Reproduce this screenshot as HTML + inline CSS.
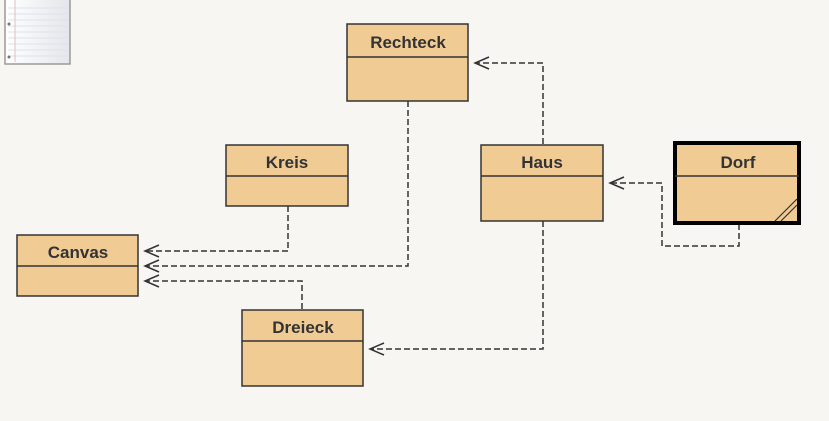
<!DOCTYPE html>
<html><head><style>
body{margin:0;width:829px;height:416px;background:#f7f6f2;overflow:hidden;font-family:"Liberation Sans",sans-serif}
</style></head><body>
<svg width="829" height="416" xmlns="http://www.w3.org/2000/svg">
<defs><linearGradient id="pg" x1="0" x2="1"><stop offset="0" stop-color="#fff"/><stop offset="1" stop-color="#e4e6ea"/></linearGradient></defs>
<rect x="5" y="-4" width="65" height="68" fill="url(#pg)" stroke="#9a9a9a" stroke-width="1.5"/>
<g stroke="#dde2ec" stroke-width="1">
<line x1="8" y1="8" x2="68" y2="8"/><line x1="8" y1="14" x2="68" y2="14"/><line x1="8" y1="20" x2="68" y2="20"/><line x1="8" y1="26" x2="68" y2="26"/><line x1="8" y1="32" x2="68" y2="32"/><line x1="8" y1="38" x2="68" y2="38"/><line x1="8" y1="44" x2="68" y2="44"/><line x1="8" y1="50" x2="68" y2="50"/><line x1="8" y1="56" x2="68" y2="56"/></g>
<line x1="15" y1="0" x2="15" y2="62" stroke="#e0c0c0"/>
<circle cx="9" cy="24" r="1.5" fill="#777"/><circle cx="9" cy="57" r="1.5" fill="#777"/>
<g fill="none" stroke="#333" stroke-width="1.5" stroke-dasharray="6,3">
<polyline points="288,206 288,251 146,251"/>
<polyline points="408,101 408,266 146,266"/>
<polyline points="302,309 302,281 146,281"/>
<polyline points="543,144 543,63 476,63"/>
<polyline points="543,221 543,349 371,349"/>
<polyline points="739,224 739,246 662,246 662,183 611,183"/>
</g>
<g fill="none" stroke="#333" stroke-width="1.5">
<polyline points="159,245 145,251 159,257"/>
<polyline points="159,260 145,266 159,272"/>
<polyline points="159,275 145,281 159,287"/>
<polyline points="489,57 475,63 489,69"/>
<polyline points="384,343 370,349 384,355"/>
<polyline points="624,177 610,183 624,189"/>
</g>
<g fill="#f0cb94" stroke="#333" stroke-width="1.5">
<rect x="347" y="24" width="121" height="77"/><line x1="347" y1="57" x2="468" y2="57"/>
<rect x="226" y="145" width="122" height="61"/><line x1="226" y1="176" x2="348" y2="176"/>
<rect x="17" y="235" width="121" height="61"/><line x1="17" y1="266" x2="138" y2="266"/>
<rect x="481" y="145" width="122" height="76"/><line x1="481" y1="176" x2="603" y2="176"/>
<rect x="242" y="310" width="121" height="76"/><line x1="242" y1="341" x2="363" y2="341"/>
</g>
<rect x="675" y="143" width="124" height="80" fill="#f0cb94" stroke="#000" stroke-width="4"/>
<line x1="675" y1="176" x2="799" y2="176" stroke="#333" stroke-width="1.5"/>
<g stroke="#333" stroke-width="1.2"><line x1="775" y1="221" x2="797" y2="199"/><line x1="781" y1="221" x2="797" y2="205"/></g>
<g font-weight="bold" font-size="17" fill="#333" text-anchor="middle">
<text x="408" y="48">Rechteck</text>
<text x="287" y="168">Kreis</text>
<text x="78" y="258">Canvas</text>
<text x="542" y="168">Haus</text>
<text x="738" y="168">Dorf</text>
<text x="303" y="333">Dreieck</text>
</g>
</svg>
</body></html>
